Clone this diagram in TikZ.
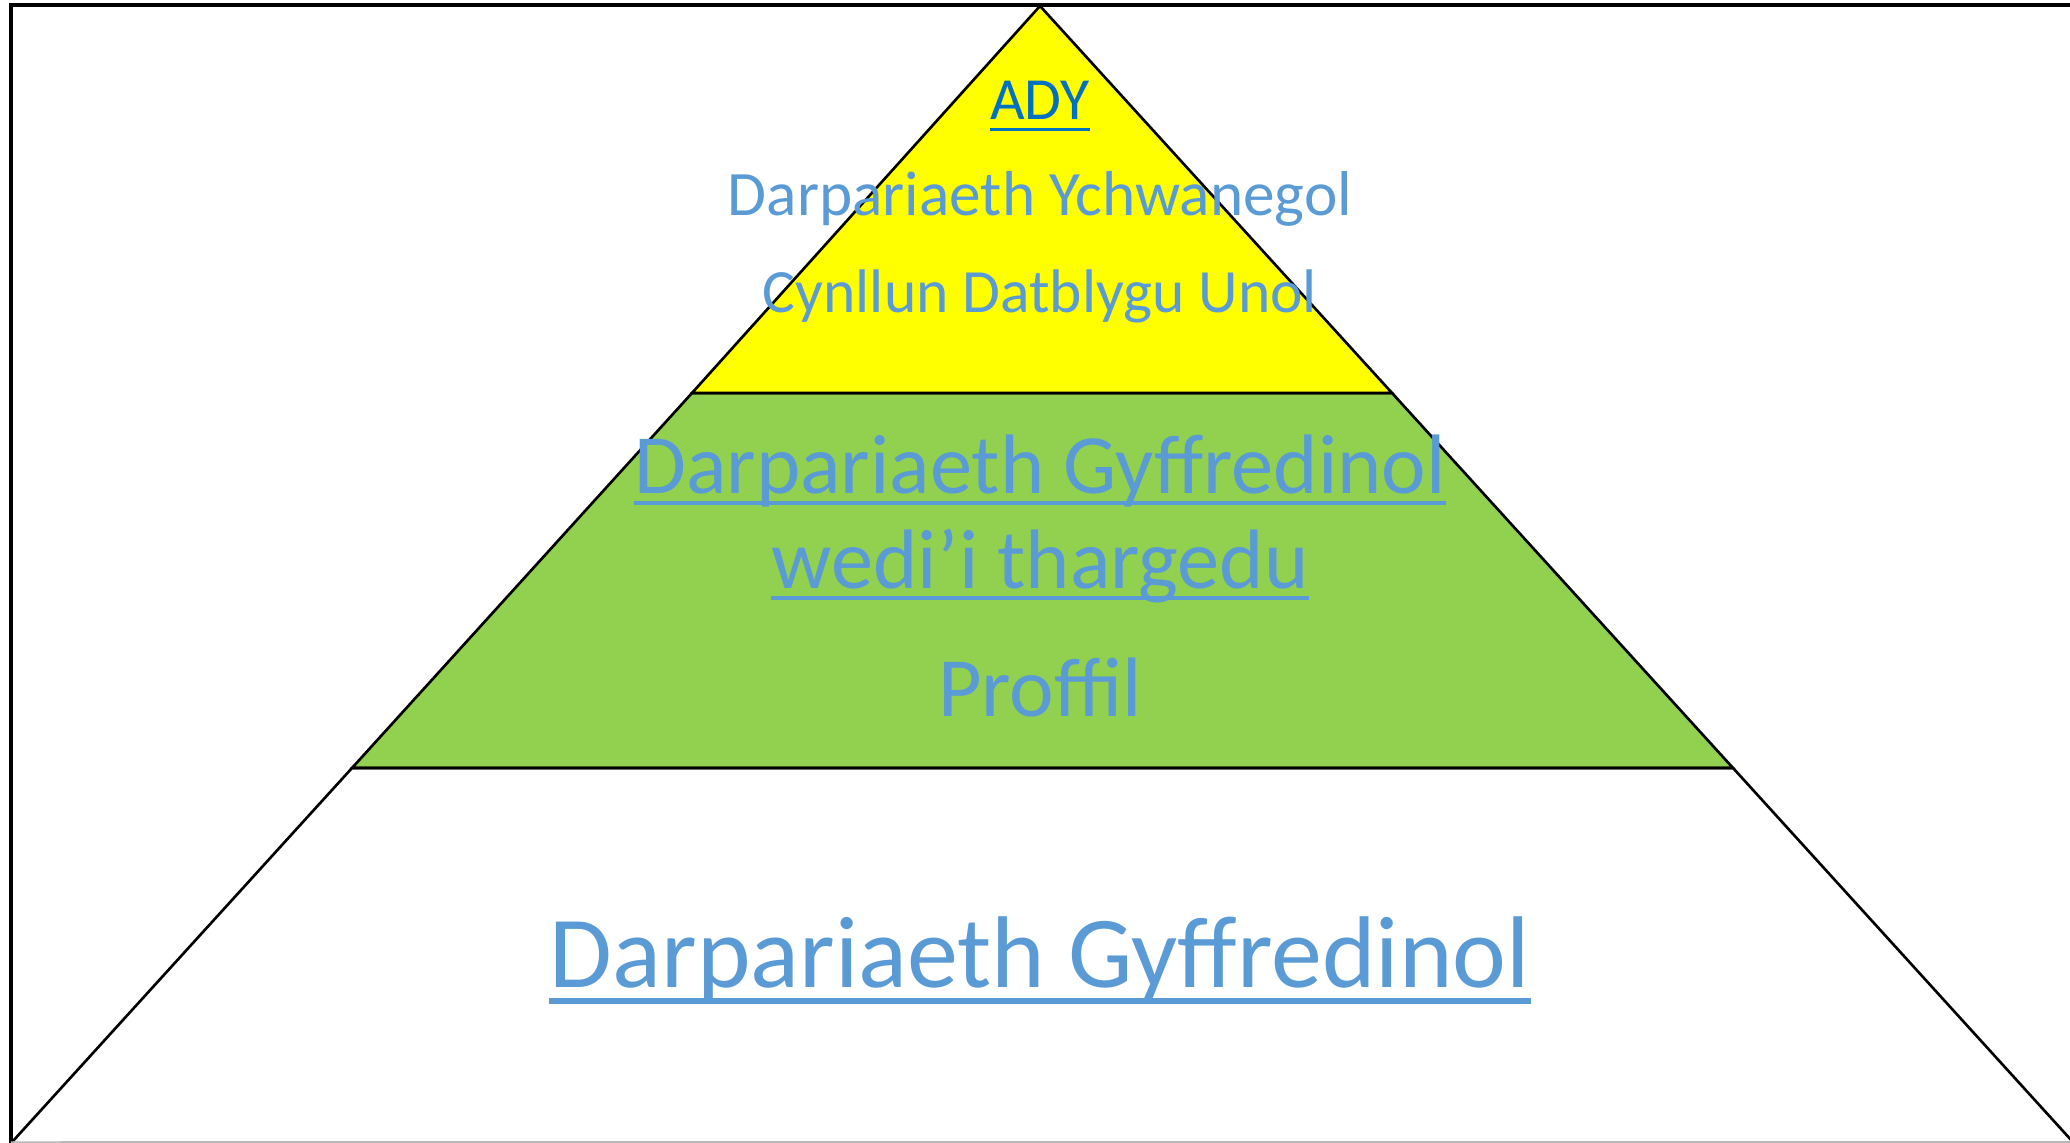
\documentclass[tikz,border=0pt]{standalone}
\usepackage{fontspec}
\setmainfont{Carlito}
\usetikzlibrary{positioning}
\definecolor{txtblue}{HTML}{5B9BD5}
\definecolor{adyblue}{HTML}{0070C0}
\definecolor{lvlgreen}{HTML}{92D050}
\definecolor{lvlyellow}{HTML}{FFFF00}
\tikzset{
	lvl/.style={draw=black, line width=0.75pt, line join=miter},
	lbl/.style={anchor=base, inner sep=0pt, text=txtblue},
	uline/.style={txtblue, line width=1.1pt},
}

\begin{document}
\begin{tikzpicture}[x=0.01cm, y=-0.01cm]
		\useasboundingbox (0,0) rectangle (2070,1143);
		
		% corners of the pyramid
		\coordinate(top) at (1040,6);
		\coordinate(yl)  at (692,393);
		\coordinate(yr)  at (1392,393);
		\coordinate(gl)  at (352,768);
		\coordinate(gr)  at (1733,768);
		\coordinate(bl)  at (13,1141);
		\coordinate(br)  at (2072,1141);
		
		% levels
		\draw[lvl, fill=lvlgreen](yl) -- (yr) -- (gr) -- (gl) -- cycle; 
		\draw[lvl, fill=lvlyellow](top) -- (yr) -- (yl) -- cycle; 
		\draw[lvl](bl) -- (gl) -- (gr) -- (br); 
		
		% frame
		\coordinate(fbl) at (11,1143);
		\coordinate(ftl) at (11,5);
		\coordinate(ftr) at (2070,5);
		\coordinate(fbr) at (2070,1142);
		\draw[line width=1.15pt](fbl) -- (ftl) -- (ftr); 
		\draw[gray!55, line width=0.5pt]([yshift=0.25pt]fbl) -- (fbr); 
		
		% texts
		\node(ady)  [lbl, text=adyblue, font=\fontsize{17}{20}\selectfont] at (1040,120)	{ADY};
		\node(ychw) [lbl, font=\fontsize{18}{22}\selectfont] at (1040,216)					{Darpariaeth Ychwanegol};
		\node(cdu)  [lbl, font=\fontsize{17.5}{21}\selectfont] at (1040,313)				{Cynllun Datblygu Unol};
		\node(dgt1) [lbl, font=\fontsize{24}{29}\selectfont] at (1040,493)					{Darpariaeth Gyffredinol};
		\node(dgt2) [lbl, font=\fontsize{24}{29}\selectfont] at (1040,588)					{wedi’i thargedu};
		\node(prof) [lbl, font=\fontsize{24}{29}\selectfont] at (1040,716)					{Proffil};
		\node(dg)   [lbl, font=\fontsize{29}{35}\selectfont] at (1040,987)					{Darpariaeth Gyffredinol};
		
		% underlines
		\draw[uline, adyblue, line width=0.9pt]([yshift=-2.8pt]ady.base west) -- ([yshift=-2.8pt]ady.base east); 
		\draw[uline]([yshift=-2.8pt]dgt1.base west) -- ([yshift=-2.8pt]dgt1.base east); 
		\draw[uline]([yshift=-2.8pt]dgt2.base west) -- ([yshift=-2.8pt]dgt2.base east); 
		\draw[uline, line width=1.6pt]([yshift=-4pt]dg.base west) -- ([yshift=-4pt]dg.base east); 
	\end{tikzpicture}
\end{document}
